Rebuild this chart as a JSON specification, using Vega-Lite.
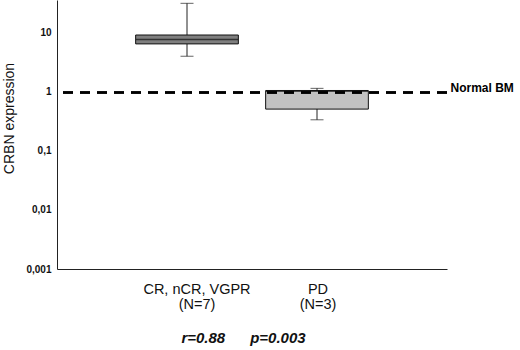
{
  "$schema": "https://vega.github.io/schema/vega-lite/v6.json",
  "width": 390,
  "height": 269,
  "autosize": {"type": "none"},
  "padding": {"left": 57, "top": 0, "right": 73, "bottom": 81},
  "background": "white",
  "config": {
    "font": "Liberation Sans",
    "view": {"stroke": null},
    "axis": {"domainColor": "#222222", "grid": false, "ticks": false}
  },
  "data": {
    "values": [
      {"group": "CR, nCR, VGPR|(N=7)", "lower": 3.9, "q1": 6.3, "median": 7.5, "q3": 8.9, "upper": 30.5},
      {"group": "PD|(N=3)", "lower": 0.33, "q1": 0.5, "median": 1.0, "q3": 1.03, "upper": 1.12}
    ]
  },
  "layer": [
    {
      "encoding": {
        "x": {
          "field": "group",
          "type": "nominal",
          "sort": null,
          "scale": {"paddingInner": 0.21, "paddingOuter": 0.605},
          "axis": {
            "labelAngle": 0,
            "labelExpr": "split(datum.label, '|')",
            "labelFontSize": 14.5,
            "labelLineHeight": 15,
            "labelColor": "#111111",
            "labelPadding": 13,
            "labelBaseline": "top",
            "labelOffset": {"condition": {"test": "datum.value == 'PD|(N=3)'", "value": 1}, "value": 10},
            "title": "r=0.88\u00a0\u00a0\u00a0\u00a0\u00a0\u00a0p=0.003",
            "titleFontSize": 15,
            "titleFontWeight": "bold",
            "titleFontStyle": "italic",
            "titleColor": "#111111",
            "titlePadding": 20,
            "titleX": 186
          }
        }
      },
      "layer": [
        {
          "mark": {"type": "rule", "color": "#222222", "strokeWidth": 1},
          "encoding": {
            "y": {
              "field": "lower",
              "type": "quantitative",
              "scale": {"type": "log", "domain": [0.001, 34.7], "nice": false},
              "title": "CRBN expression",
              "axis": {
                "values": [0.001, 0.01, 0.1, 1, 10],
                "labelExpr": "replace(toString(datum.value), '.', ',')",
                "labelFontSize": 10,
                "labelFontWeight": "bold",
                "labelColor": "#111111",
                "labelPadding": 6,
                "titleFontSize": 14,
                "titleFontWeight": "normal",
                "titleColor": "#111111",
                "titleX": -48,
                "titleY": 118,
                "titleBaseline": "middle"
              }
            },
            "y2": {"field": "upper"}
          }
        },
        {
          "mark": {"type": "bar", "stroke": "#111111", "strokeWidth": 1},
          "encoding": {
            "y": {"field": "q1", "type": "quantitative"},
            "y2": {"field": "q3"},
            "color": {
              "field": "group",
              "type": "nominal",
              "scale": {"domain": ["CR, nCR, VGPR|(N=7)", "PD|(N=3)"], "range": ["#7f7f7f", "#c2c2c2"]},
              "legend": null
            }
          }
        },
        {
          "mark": {"type": "tick", "color": "#111111", "size": 102, "thickness": 1.5},
          "encoding": {"y": {"field": "median", "type": "quantitative"}}
        },
        {
          "mark": {"type": "tick", "color": "#222222", "size": 13, "thickness": 1},
          "encoding": {"y": {"field": "lower", "type": "quantitative"}}
        },
        {
          "mark": {"type": "tick", "color": "#222222", "size": 13, "thickness": 1},
          "encoding": {"y": {"field": "upper", "type": "quantitative"}}
        }
      ]
    },
    {
      "mark": {"type": "rule", "color": "#000000", "strokeWidth": 2.5, "strokeDash": [10, 7]},
      "encoding": {
        "y": {
          "datum": 0.95,
          "type": "quantitative",
          "axis": {
            "orient": "right",
            "values": [0.95],
            "labelExpr": "'Normal BM'",
            "labelFontSize": 12,
            "labelFontWeight": "bold",
            "labelColor": "#000000",
            "labelPadding": 3,
            "labelOffset": -5,
            "domain": false,
            "title": null
          }
        }
      }
    }
  ],
  "resolve": {"axis": {"y": "independent"}}
}
